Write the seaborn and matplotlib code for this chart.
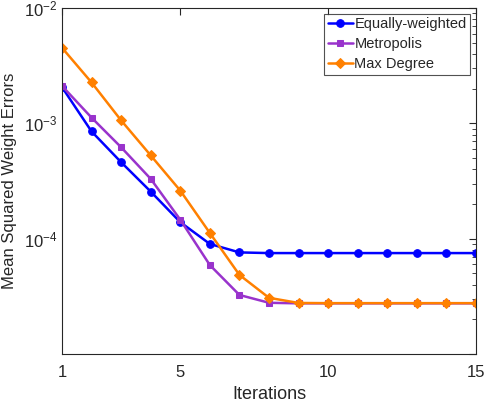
import numpy as np
import pandas as pd
import matplotlib
matplotlib.use("Agg")
import matplotlib.pyplot as plt
import seaborn as sns
from matplotlib.ticker import FixedLocator, FuncFormatter, LogLocator, NullFormatter

iterations = list(range(1, 16))
equally_weighted = [2.06e-3, 8.5e-4, 4.6e-4, 2.56e-4, 1.39e-4, 9.0e-5, 7.6e-5, 7.5e-5,
                    7.5e-5, 7.5e-5, 7.5e-5, 7.5e-5, 7.5e-5, 7.5e-5, 7.5e-5]
metropolis = [2.11e-3, 1.12e-3, 6.2e-4, 3.3e-4, 1.46e-4, 5.9e-5, 3.25e-5, 2.78e-5,
              2.75e-5, 2.75e-5, 2.75e-5, 2.75e-5, 2.75e-5, 2.75e-5, 2.75e-5]
max_degree = [4.52e-3, 2.26e-3, 1.06e-3, 5.27e-4, 2.61e-4, 1.12e-4, 4.85e-5, 3.07e-5,
              2.77e-5, 2.76e-5, 2.76e-5, 2.76e-5, 2.76e-5, 2.76e-5, 2.76e-5]
series_names = ["Equally-weighted", "Metropolis", "Max Degree"]
x_ticks = [1, 5, 10, 15]

sns.set_style("white")
plt.rcParams['font.family'] = ['Liberation Sans', 'DejaVu Sans']
plt.rcParams['mathtext.fontset'] = 'custom'
plt.rcParams['mathtext.rm'] = 'Liberation Sans'
plt.rcParams['mathtext.it'] = 'Liberation Sans'

df = pd.DataFrame({
    "Iterations": iterations * 3,
    "value": equally_weighted + metropolis + max_degree,
    "series": [series_names[0]] * 15 + [series_names[1]] * 15 + [series_names[2]] * 15,
})

fig = plt.figure(figsize=(4.85, 4.05), dpi=100)
ax = fig.add_axes([62/485, 1 - 354/405, (476 - 62)/485, (354 - 8)/405])

palette = {series_names[0]: "#0000FF", series_names[1]: "#9933CC", series_names[2]: "#FF8000"}
markers = {series_names[0]: "o", series_names[1]: "s", series_names[2]: "D"}
sizes = {series_names[0]: 5.5, series_names[1]: 4.5, series_names[2]: 5}

for name in series_names:
    sub = df[df["series"] == name]
    sns.lineplot(data=sub, x="Iterations", y="value", ax=ax, color=palette[name],
                 marker=markers[name], markersize=sizes[name], markeredgecolor=palette[name],
                 linewidth=1.8, label=name)

ax.set_yscale("log")
ax.set_xlim(1, 15)
ax.set_ylim(1e-5, 1e-2)
ax.xaxis.set_major_locator(FixedLocator(x_ticks))
ax.yaxis.set_major_locator(FixedLocator([1e-5, 1e-4, 1e-3, 1e-2]))
ax.yaxis.set_major_formatter(FuncFormatter(lambda v, p: "" if v < 5e-5 else r"$10^{%d}$" % int(round(np.log10(v)))))
ax.yaxis.set_minor_locator(LogLocator(base=10, subs=np.arange(2, 10), numticks=20))
ax.yaxis.set_minor_formatter(NullFormatter())

ax.set_xlabel("Iterations", fontsize=13, color="#262626", labelpad=4)
ax.set_ylabel("Mean Squared Weight Errors", fontsize=12, color="#262626", labelpad=5)

for s in ax.spines.values():
    s.set_color("#262626")
    s.set_linewidth(0.8)
ax.tick_params(axis="both", which="both", direction="in", top=True, right=True,
               colors="#262626", labelsize=12)
ax.tick_params(which="major", length=5, width=0.8)
ax.tick_params(which="minor", length=3, width=0.6)
ax.tick_params(axis="x", pad=8)

leg = ax.legend(loc="upper right", fontsize=10.5, frameon=True, fancybox=False,
                borderpad=0.25, labelspacing=0.4, handlelength=1.7, handletextpad=0.1,
                borderaxespad=0.4)
leg.get_frame().set_edgecolor("#262626")
leg.get_frame().set_linewidth(0.8)

fig.savefig("out.png", dpi=100)
